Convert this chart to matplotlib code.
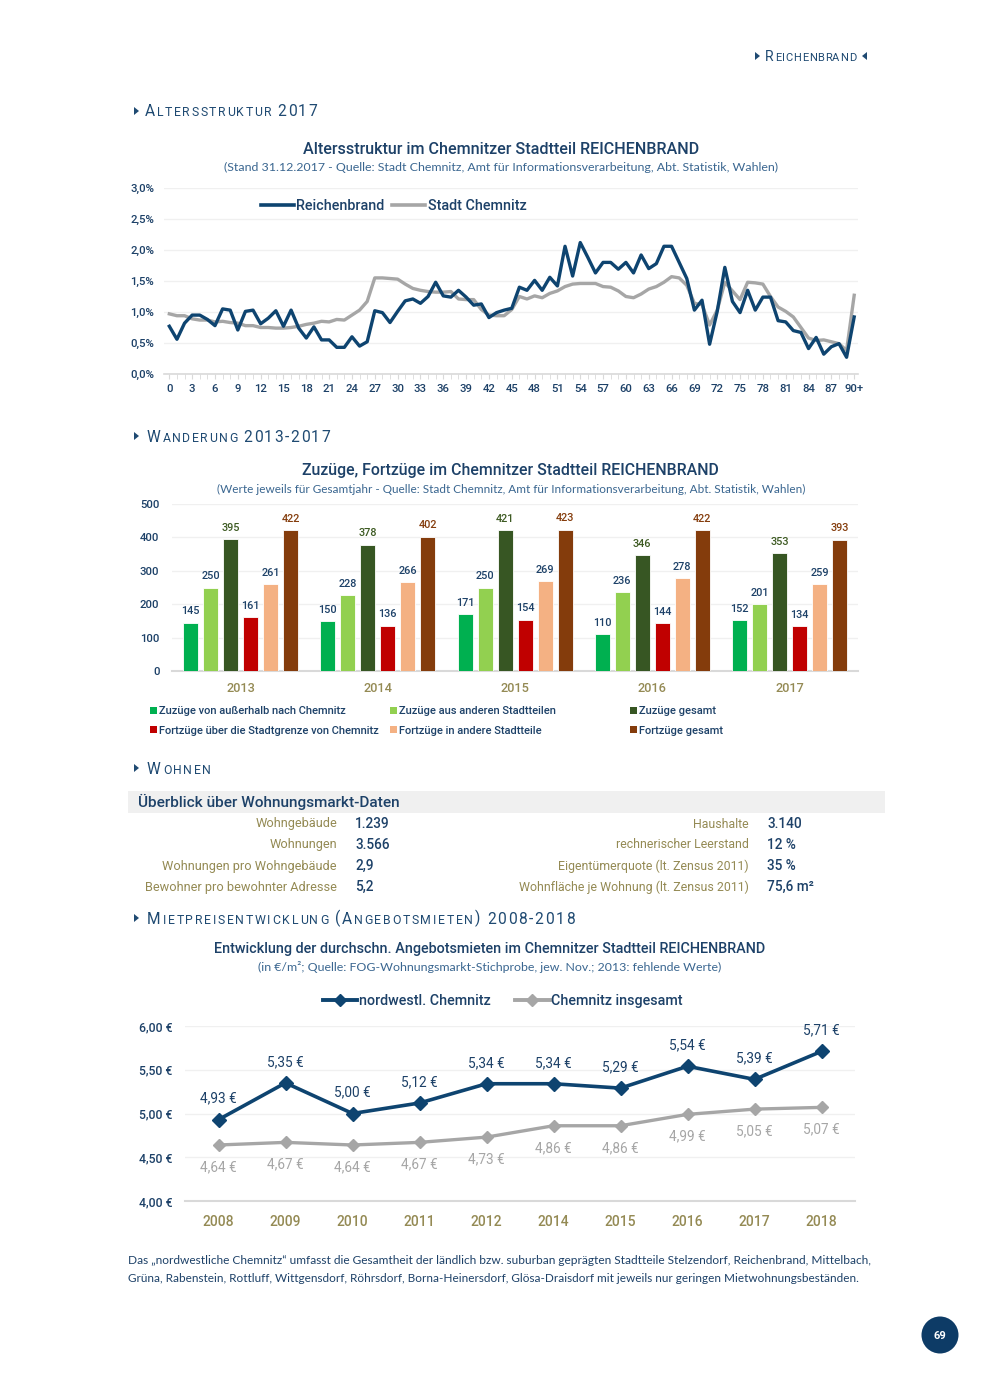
import matplotlib
matplotlib.use("Agg")
import matplotlib.pyplot as plt
from matplotlib.ticker import FuncFormatter, FixedLocator, MultipleLocator
from matplotlib.patches import Rectangle, Polygon, Ellipse, Patch
from matplotlib.lines import Line2D
from matplotlib.font_manager import FontProperties

# ---------------- data ----------------
ages = list(range(91))
age_ticks = list(range(0, 91, 3))
age_tick_labels = [str(a) for a in range(0, 90, 3)] + ["90+"]
reichenbrand = [0.77, 0.56, 0.82, 0.95, 0.95, 0.88, 0.78, 1.05, 1.03, 0.71,
                1.01, 1.03, 0.81, 0.90, 1.02, 0.77, 1.03, 0.74, 0.58, 0.76,
                0.55, 0.55, 0.43, 0.43, 0.60, 0.45, 0.52, 1.02, 0.99, 0.83,
                1.01, 1.18, 1.21, 1.14, 1.25, 1.48, 1.26, 1.24, 1.35, 1.24,
                1.11, 1.13, 0.91, 0.99, 1.03, 1.06, 1.40, 1.35, 1.51, 1.35,
                1.56, 1.42, 2.06, 1.58, 2.12, 1.88, 1.63, 1.80, 1.80, 1.69,
                1.80, 1.63, 1.92, 1.70, 1.78, 2.06, 2.06, 1.80, 1.54, 1.03,
                1.19, 0.48, 1.01, 1.72, 1.17, 0.99, 1.35, 1.03, 1.24, 1.24,
                0.86, 0.84, 0.70, 0.67, 0.41, 0.59, 0.32, 0.44, 0.49, 0.27,
                0.92]
stadt_chemnitz = [0.97, 0.94, 0.94, 0.89, 0.87, 0.87, 0.84, 0.85, 0.83, 0.82,
                  0.78, 0.78, 0.75, 0.75, 0.74, 0.74, 0.75, 0.77, 0.80, 0.82,
                  0.85, 0.84, 0.88, 0.87, 0.95, 1.03, 1.17, 1.55, 1.55, 1.54,
                  1.53, 1.45, 1.38, 1.35, 1.33, 1.32, 1.32, 1.33, 1.21, 1.20,
                  1.20, 1.04, 0.95, 0.94, 0.94, 1.04, 1.25, 1.21, 1.26, 1.23,
                  1.30, 1.34, 1.41, 1.45, 1.46, 1.46, 1.46, 1.41, 1.40, 1.34,
                  1.25, 1.23, 1.29, 1.37, 1.41, 1.48, 1.57, 1.55, 1.43, 1.14,
                  1.12, 0.79, 1.03, 1.48, 1.34, 1.20, 1.48, 1.47, 1.45, 1.25,
                  1.08, 1.01, 0.92, 0.75, 0.58, 0.54, 0.55, 0.52, 0.49, 0.38,
                  1.27]

mig_years = ["2013", "2014", "2015", "2016", "2017"]
zuzuege_aussen = [145, 150, 171, 110, 152]
zuzuege_stadtteile = [250, 228, 250, 236, 201]
zuzuege_gesamt = [395, 378, 421, 346, 353]
fortzuege_grenze = [161, 136, 154, 144, 134]
fortzuege_stadtteile = [261, 266, 269, 278, 259]
fortzuege_gesamt = [422, 402, 423, 422, 393]
mig_labels = ["Zuzüge von außerhalb nach Chemnitz", "Zuzüge aus anderen Stadtteilen",
              "Zuzüge gesamt", "Fortzüge über die Stadtgrenze von Chemnitz",
              "Fortzüge in andere Stadtteile", "Fortzüge gesamt"]

wohn_left_labels = ["Wohngebäude", "Wohnungen", "Wohnungen pro Wohngebäude", "Bewohner pro bewohnter Adresse"]
wohn_left_values = ["1.239", "3.566", "2,9", "5,2"]
wohn_right_labels = ["Haushalte", "rechnerischer Leerstand", "Eigentümerquote (lt. Zensus 2011)",
                     "Wohnfläche je Wohnung (lt. Zensus 2011)"]
wohn_right_values = ["3.140", "12 %", "35 %", "75,6 m²"]

rent_years = ["2008", "2009", "2010", "2011", "2012", "2014", "2015", "2016", "2017", "2018"]
rent_nw = [4.93, 5.35, 5.00, 5.12, 5.34, 5.34, 5.29, 5.54, 5.39, 5.71]
rent_chemnitz = [4.64, 4.67, 4.64, 4.67, 4.73, 4.86, 4.86, 4.99, 5.05, 5.07]

# ---------------- style ----------------
W, H = 990, 1389
fig = plt.figure(figsize=(W / 100, H / 100), dpi=100)
renderer = fig.canvas.get_renderer()

HF = "Roboto"      # DIN-like headings / labels
SF = "Lato"        # humanist subtitles
NAVY = "#1d4168"
HEAD = "#1f4a72"
DARK = "#0e4470"
GRAY = "#a6a6a6"
OLIVE = "#948a54"
GRID = "#f0f0f0"
AXLINE = "#d9d9d9"
SUB = "#3a6690"
BAR_COLORS = ["#00b050", "#92d050", "#375623", "#c00000", "#f4b183", "#843c0c"]
BAR_LABEL_COLORS = [NAVY, NAVY, "#3d5a22", NAVY, NAVY, "#843c0c"]


def fx(x):
    return x / W


def fy(y):
    return 1 - y / H


def tw(s, size, family=HF, weight="normal"):
    fp = FontProperties(family=family, size=size, weight=weight)
    w, h, d = renderer.get_text_width_height_descent(s, fp, ismath=False)
    return w


def fit_text(x, y, s, width, family=HF, color=NAVY, ha="center", weight="normal", va="center"):
    size = 10 * width / tw(s, 10, family, weight)
    fig.text(fx(x), fy(y), s, fontsize=size, family=family, color=color,
             ha=ha, va=va, fontweight=weight)


def tri(x, y, right=True, h=8, w=5):
    if right:
        pts = [(x, y - h / 2), (x + w, y), (x, y + h / 2)]
    else:
        pts = [(x + w, y - h / 2), (x, y), (x + w, y + h / 2)]
    fig.patches.append(Polygon([(fx(a), fy(b)) for a, b in pts], closed=True,
                               transform=fig.transFigure, color=HEAD, lw=0))


def _layout(x0, segs, sp):
    items = []
    cur = x0
    first = True
    for t, s in segs:
        if t == " ":
            cur += s * 0.30 * 100 / 72 + sp
            first = True
            continue
        if not first:
            cur += 0.4 + sp
        for i, c in enumerate(t):
            right = cur + tw(t[:i + 1], s) + i * sp
            items.append((right - tw(c, s), right, c, s))
        cur = items[-1][1]
        first = False
    return items


def heading(x0, x1, ybase, segs, color=HEAD):
    e0 = _layout(x0, segs, 0)[-1][1]
    e1 = _layout(x0, segs, 1)[-1][1]
    sp = (x1 - e0) / (e1 - e0)
    for left, right, c, s in _layout(x0, segs, sp):
        fig.text(fx(left), fy(ybase), c, fontsize=s, family=HF, color=color,
                 ha="left", va="baseline")


def add_axes(l, t, r, b):
    return fig.add_axes([fx(l), fy(b), (r - l) / W, (b - t) / H])


# ---------------- page header & section headings ----------------
tri(755, 56)
heading(765, 856, 61, [("R", 10.2), ("EICHENBRAND", 8.0)])
tri(862, 56, right=False)

BIG, SMALL = 11.2, 8.8
tri(134, 111)
heading(145, 317, 116.5, [("A", BIG), ("LTERSSTRUKTUR", SMALL), (" ", BIG), ("2017", BIG)])
tri(134, 436)
heading(147, 330, 441.5, [("W", BIG), ("ANDERUNG", SMALL), (" ", BIG), ("2013-2017", BIG)])
tri(134, 768)
heading(147, 211, 773.5, [("W", BIG), ("OHNEN", SMALL)])
tri(134, 918)
heading(147, 575, 923.5, [("M", BIG), ("IETPREISENTWICKLUNG", SMALL), (" ", BIG), ("(A", BIG),
                          ("NGEBOTSMIETEN", SMALL), (")", BIG), (" ", BIG), ("2008-2018", BIG)])

# ---------------- chart 1: age structure ----------------
fit_text(501.5, 149, "Altersstruktur im Chemnitzer Stadtteil REICHENBRAND", 397, weight="medium")
fit_text(500.5, 167, "(Stand 31.12.2017 - Quelle: Stadt Chemnitz, Amt für Informationsverarbeitung, Abt. Statistik, Wahlen)",
         553, family=SF, color=SUB)

ax1 = add_axes(164, 188, 858, 374)
ax1.plot(ages, [v / 100 for v in stadt_chemnitz], color=GRAY, lw=2.4, solid_joinstyle="round", zorder=2)
ax1.plot(ages, [v / 100 for v in reichenbrand], color=DARK, lw=2.4, solid_joinstyle="round", zorder=3)
ax1.set_xlim(-0.7, 90.5)
ax1.set_ylim(0, 0.03)
ax1.yaxis.set_major_locator(MultipleLocator(0.005))
ax1.yaxis.set_major_formatter(FuncFormatter(lambda v, p: f"{v * 100:.1f}%".replace(".", ",")))
ax1.xaxis.set_major_locator(FixedLocator(age_ticks))
ax1.set_xticklabels(age_tick_labels)
ax1.xaxis.set_minor_locator(FixedLocator(ages))
ax1.grid(axis="y", color=GRID, lw=1.0)
ax1.set_axisbelow(True)
for s in ["top", "right", "left"]:
    ax1.spines[s].set_visible(False)
ax1.spines["bottom"].set_color(AXLINE)
ax1.spines["bottom"].set_linewidth(1.2)
ax1.tick_params(axis="y", length=0, pad=7, labelsize=8.2, labelcolor=NAVY)
ax1.tick_params(axis="x", which="both", length=3.5, color=AXLINE, pad=4, labelsize=8.2, labelcolor=NAVY)
for lab in ax1.get_xticklabels() + ax1.get_yticklabels():
    lab.set_family(HF)
    lab.set_fontweight("medium")
fig.legend(handles=[Line2D([], [], color=DARK, lw=2.6), Line2D([], [], color=GRAY, lw=2.6)],
           labels=["Reichenbrand", "Stadt Chemnitz"], loc="center",
           bbox_to_anchor=(fx(393.5), fy(206)), ncol=2, frameon=False,
           prop=FontProperties(family=HF, size=10.4, weight="medium"),
           handlelength=2.3, handletextpad=0.15, columnspacing=0.55, labelcolor=NAVY)

# ---------------- chart 2: migration ----------------
fit_text(510.5, 471, "Zuzüge, Fortzüge im Chemnitzer Stadtteil REICHENBRAND", 415, weight="medium")
fit_text(511.5, 489, "(Werte jeweils für Gesamtjahr - Quelle: Stadt Chemnitz, Amt für Informationsverarbeitung, Abt. Statistik, Wahlen)",
         585, family=SF, color=SUB)

ax2 = add_axes(172, 504, 858, 671)
series = [zuzuege_aussen, zuzuege_stadtteile, zuzuege_gesamt,
          fortzuege_grenze, fortzuege_stadtteile, fortzuege_gesamt]
pitch = 20 / 137.2
bw = 15 / 137.2
xs = list(range(len(mig_years)))
for i, vals in enumerate(series):
    pos = [x + (i - 2.5) * pitch for x in xs]
    bars = ax2.bar(pos, vals, width=bw, color=BAR_COLORS[i], edgecolor="white", linewidth=0.6, zorder=3)
    for b, v in zip(bars, vals):
        ax2.annotate(str(v), (b.get_x() + b.get_width() / 2, v), xytext=(0, 4.5),
                     textcoords="offset points", ha="center", va="bottom", fontsize=7.8,
                     family=HF, fontweight="medium", color=BAR_LABEL_COLORS[i])
ax2.set_xlim(-0.5, 4.5)
ax2.set_ylim(0, 500)
ax2.yaxis.set_major_locator(MultipleLocator(100))
ax2.set_xticks(xs)
ax2.set_xticklabels(mig_years)
ax2.grid(axis="y", color=GRID, lw=1.0)
ax2.set_axisbelow(True)
for s in ["top", "right", "left"]:
    ax2.spines[s].set_visible(False)
ax2.spines["bottom"].set_color(AXLINE)
ax2.spines["bottom"].set_linewidth(1.5)
ax2.tick_params(axis="y", length=0, pad=9, labelsize=8.2, labelcolor=NAVY)
ax2.tick_params(axis="x", length=0, pad=8, labelsize=9.2, labelcolor=OLIVE)
for lab in ax2.get_xticklabels() + ax2.get_yticklabels():
    lab.set_family(HF)
    lab.set_fontweight("medium")

legprop = FontProperties(family=HF, size=8.0, weight="medium")
for col, xleft in enumerate([150, 390, 630]):
    idx = [col, col + 3]
    fig.legend(handles=[Patch(facecolor=BAR_COLORS[k], edgecolor="none") for k in idx],
               labels=[mig_labels[k] for k in idx], loc="center left",
               bbox_to_anchor=(fx(xleft), fy(721)), frameon=False, prop=legprop,
               handlelength=0.6, handleheight=0.6, handletextpad=0.25,
               labelspacing=0.85, borderpad=0, borderaxespad=0, labelcolor=NAVY)

# ---------------- Wohnen table ----------------
fig.patches.append(Rectangle((fx(128), fy(813)), (885 - 128) / W, 22 / H,
                             transform=fig.transFigure, color="#f0f0f0", lw=0, zorder=0))
fit_text(138, 802, "Überblick über Wohnungsmarkt-Daten", 262, ha="left", weight="medium")
row_y = [824, 845, 866, 887]
for i, y in enumerate(row_y):
    fig.text(fx(337), fy(y), wohn_left_labels[i], ha="right", va="center", fontsize=9.2,
             family=HF, color=OLIVE)
    fig.text(fx(355), fy(y), wohn_left_values[i], ha="left", va="center", fontsize=9.8,
             family=HF, color=NAVY, fontweight="medium")
    fig.text(fx(749), fy(y), wohn_right_labels[i], ha="right", va="center", fontsize=8.9,
             family=HF, color=OLIVE)
    fig.text(fx(767), fy(y), wohn_right_values[i], ha="left", va="center", fontsize=9.8,
             family=HF, color=NAVY, fontweight="medium")

# ---------------- chart 3: rents ----------------
fit_text(490, 949, "Entwicklung der durchschn. Angebotsmieten im Chemnitzer Stadtteil REICHENBRAND", 550,
         weight="medium")
fit_text(489.5, 967, "(in €/m²; Quelle: FOG-Wohnungsmarkt-Stichprobe, jew. Nov.; 2013: fehlende Werte)",
         465, family=SF, color=SUB)

ax3 = add_axes(185, 1026, 855, 1201)
rx = list(range(len(rent_years)))
ax3.plot(rx, rent_chemnitz, color=GRAY, lw=2.4, marker="D", ms=6, zorder=2)
ax3.plot(rx, rent_nw, color=DARK, lw=2.6, marker="D", ms=7, zorder=3)
for x, v in zip(rx, rent_nw):
    ax3.annotate(f"{v:.2f} €".replace(".", ","), (x, v), xytext=(0, 15), textcoords="offset points",
                 ha="center", va="center", fontsize=9.8, family=HF, color=NAVY)
for x, v in zip(rx, rent_chemnitz):
    ax3.annotate(f"{v:.2f} €".replace(".", ","), (x, v), xytext=(0, -16), textcoords="offset points",
                 ha="center", va="center", fontsize=9.8, family=HF, color=GRAY)
ax3.set_xlim(-0.5, 9.5)
ax3.set_ylim(4.0, 6.0)
ax3.yaxis.set_major_locator(MultipleLocator(0.5))
ax3.yaxis.set_major_formatter(FuncFormatter(lambda v, p: f"{v:.2f} €".replace(".", ",")))
ax3.set_xticks(rx)
ax3.set_xticklabels(rent_years)
ax3.grid(axis="y", color=GRID, lw=1.0)
ax3.set_axisbelow(True)
for s in ["top", "right", "left"]:
    ax3.spines[s].set_visible(False)
ax3.spines["bottom"].set_color(AXLINE)
ax3.spines["bottom"].set_linewidth(1.5)
ax3.tick_params(axis="y", length=0, pad=9, labelsize=8.8, labelcolor=NAVY)
ax3.tick_params(axis="x", length=0, pad=10, labelsize=10, labelcolor=OLIVE)
for lab in ax3.get_xticklabels() + ax3.get_yticklabels():
    lab.set_family(HF)
    lab.set_fontweight("medium")
fig.legend(handles=[Line2D([], [], color=DARK, lw=2.8, marker="D", ms=6),
                    Line2D([], [], color=GRAY, lw=2.8, marker="D", ms=6)],
           labels=["nordwestl. Chemnitz", "Chemnitz insgesamt"], loc="center",
           bbox_to_anchor=(fx(503), fy(1001)), ncol=2, frameon=False,
           prop=FontProperties(family=HF, size=10.3, weight="medium"),
           handlelength=2.4, handletextpad=0.12, columnspacing=1.7, labelcolor=NAVY)

# ---------------- footnote & page number ----------------
fit_text(128, 1260, "Das „nordwestliche Chemnitz“ umfasst die Gesamtheit der ländlich bzw. suburban geprägten Stadtteile Stelzendorf, Reichenbrand, Mittelbach,",
         738, family=SF, color=NAVY, ha="left")
fit_text(128, 1279, "Grüna, Rabenstein, Rottluff, Wittgensdorf, Röhrsdorf, Borna-Heinersdorf, Glösa-Draisdorf mit jeweils nur geringen Mietwohnungsbeständen.",
         727, family=SF, color=NAVY, ha="left")

fig.patches.append(Ellipse((fx(940), fy(1335)), 37 / W, 37 / H, transform=fig.transFigure,
                           color="#0d3b66", lw=0))
fig.text(fx(940), fy(1336), "69", ha="center", va="center", fontsize=8, family=HF,
         fontweight="bold", color="white")

fig.savefig("out.png", dpi=100, facecolor="white")
